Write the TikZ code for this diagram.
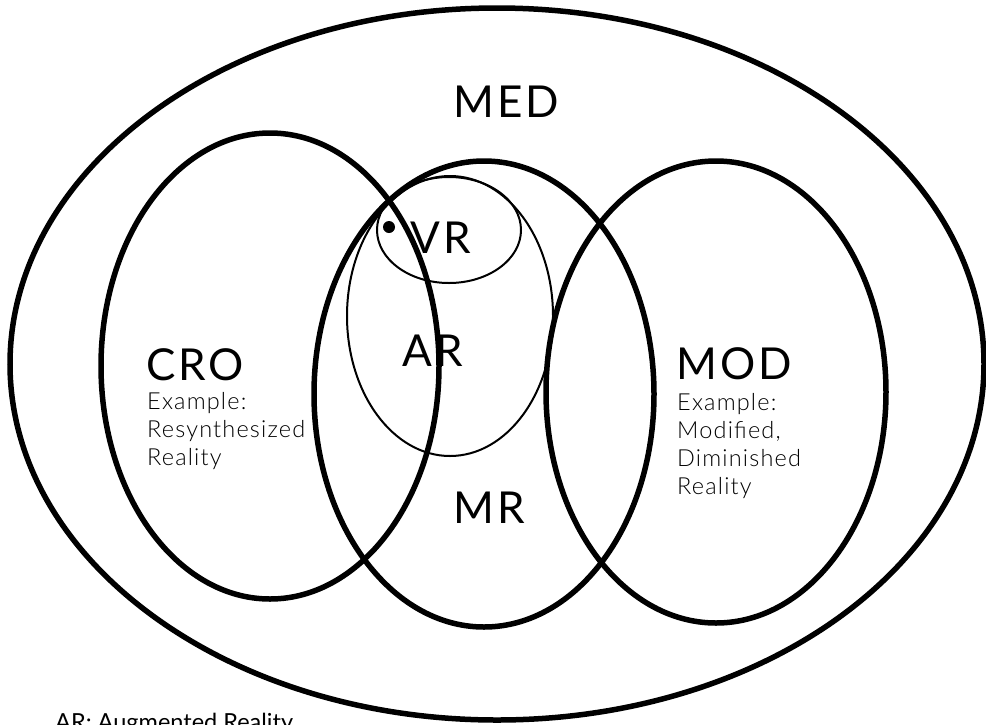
\documentclass[tikz,border=0pt]{standalone}
\usepackage{fontspec}
\setmainfont{Lato}
\newfontfamily\setfont{Lato}[LetterSpace=7]
\newfontfamily\lightfont{Lato Light}[LetterSpace=5]
\usetikzlibrary{shapes.geometric,positioning}
\tikzset{
  vset/.style={draw, ellipse, line width=5.5pt, inner sep=0pt},
  vsub/.style={draw, ellipse, line width=2pt, inner sep=0pt},
  vlabel/.style={font=\setfont\fontsize{44}{48}\selectfont, inner sep=0pt, anchor=base},
  vexample/.style={font=\lightfont\fontsize{23.5}{28}\selectfont, inner sep=0pt, align=left, anchor=base west},
}
\begin{document}
\begin{tikzpicture}[x=1pt, y=-1pt]
  \clip (0,0) rectangle (986,724);
  \useasboundingbox (0,0) rectangle (986,724);
  % sets
  \node[vset, minimum width=974pt, minimum height=712pt] (med) at (497,364) {};
  \node[vset, minimum width=338pt, minimum height=466pt] (cro) at (270,366) {};
  \node[vset, minimum width=340pt, minimum height=466pt] (mr) at (484,394) {};
  \node[vset, minimum width=340pt, minimum height=462pt] (mod) at (716,392) {};
  \node[vsub, minimum width=206pt, minimum height=280pt] (ar) at (450,316) {};
  \node[vsub, minimum width=144pt, minimum height=106pt] (vr) at (449,230) {};
  \node[circle, fill, inner sep=0pt, minimum size=12pt] (dot) at (389,227) {};

  % labels
  \node[vlabel] (medlbl) at (506,117) {MED};
  \node[vlabel] (vrlbl) at (441,253) {VR};
  \node[vlabel] (arlbl) at (433,366) {AR};
  \node[vlabel] (mrlbl) at (489,523) {MR};
  \node[vlabel, anchor=base west] (crolbl) at (146,380) {CRO};
  \node[vlabel, anchor=base west] (modlbl) at (676,379) {MOD};
  % multi-line: base is the last line
  \node[vexample] (croex) at (147,465) {Example:\\Resynthesized\\Reality};
  \node[vexample] (modex) at (677,494) {Example:\\Modified,\\Diminished\\Reality};

  % legend
  \node[font=\fontsize{23.5}{28}\selectfont, inner sep=0pt, anchor=base west] (legend) at (55,730) {AR: Augmented Reality};
\end{tikzpicture}
\end{document}
